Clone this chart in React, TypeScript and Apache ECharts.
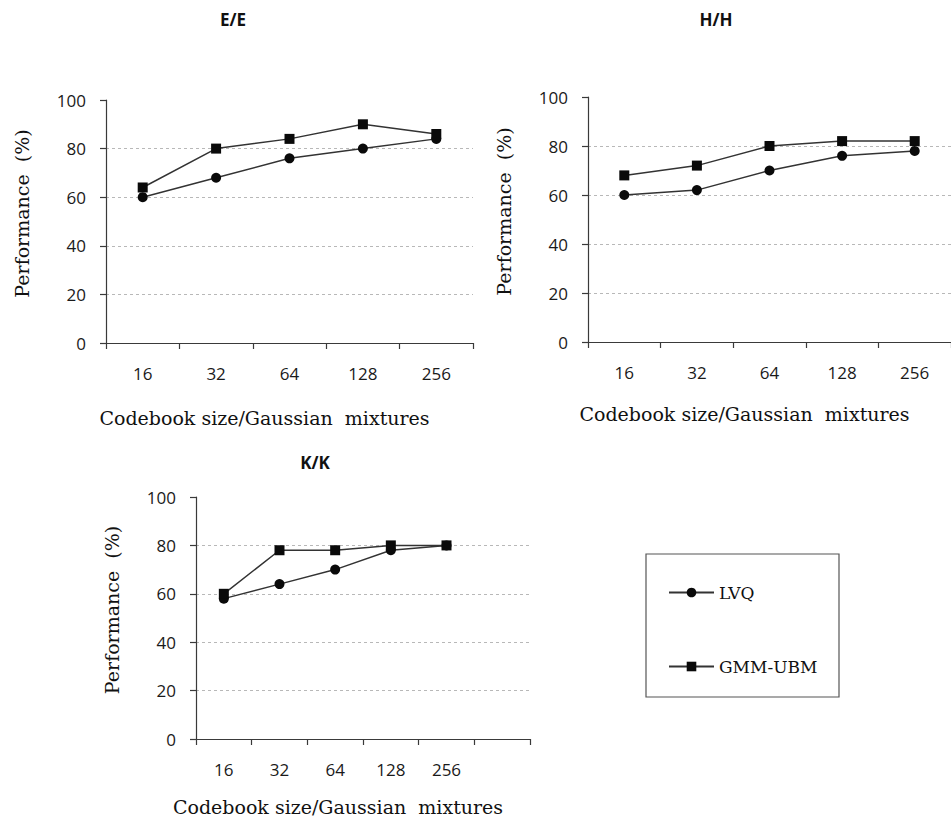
import React, { useEffect, useRef } from "react";
import * as echarts from "echarts";

const categories = ["16", "32", "64", "128", "256"];
const categoriesKK = ["16", "32", "64", "128", "256", ""];
const panelTitles = ["E/E", "H/H", "K/K"];
const seriesNames = ["LVQ", "GMM-UBM"];

const lvqEE = [60, 68, 76, 80, 84];
const gmmEE = [64, 80, 84, 90, 86];
const lvqHH = [60, 62, 70, 76, 78];
const gmmHH = [68, 72, 80, 82, 82];
const lvqKK = [58, 64, 70, 78, 80];
const gmmKK = [60, 78, 78, 80, 80];

const xName = "Codebook size/Gaussian  mixtures";
const yName = "Performance  (%)";

const SERIF = "'DejaVu Serif', serif";
const SANS = "'Open Sans', sans-serif";
const AXIS_COLOR = "#3a3a3a";

export default function App() {
  const ref = useRef<HTMLDivElement>(null);
  useEffect(() => {
    if (!ref.current) return;
    const chart = echarts.init(ref.current, null, { renderer: "svg" });

    const grids = [
      { left: 106, top: 100, width: 367, height: 243 },
      { left: 588, top: 97, width: 368, height: 245 },
      { left: 196, top: 497, width: 334, height: 242 },
    ];
    const xNameGaps = [65, 62, 58];
    const cats = [categories, categories, categoriesKK];

    const xAxis = grids.map((_, i) => ({
      type: "category",
      gridIndex: i,
      data: cats[i],
      boundaryGap: true,
      name: xName,
      nameLocation: "middle",
      nameGap: xNameGaps[i],
      nameTextStyle: {
        fontFamily: SERIF,
        fontSize: 19,
        color: "#111",
        padding: [0, 50, 0, 0],
      },
      axisLine: { show: true, lineStyle: { color: AXIS_COLOR, width: 1.2 } },
      axisTick: {
        show: true,
        alignWithLabel: false,
        interval: 0,
        length: 6,
        lineStyle: { color: AXIS_COLOR, width: 1.2 },
      },
      axisLabel: {
        interval: 0,
        margin: 22,
        fontFamily: SANS,
        fontSize: 17,
        color: "#1a1a1a",
      },
      splitLine: { show: false },
    }));

    const yAxis = grids.map((_, i) => ({
      type: "value",
      gridIndex: i,
      min: 0,
      max: 100,
      interval: 20,
      name: yName,
      nameLocation: "middle",
      nameGap: 75,
      nameRotate: 90,
      nameTextStyle: {
        fontFamily: SERIF,
        fontSize: 19,
        color: "#111",
        padding: [0, 0, 0, 16],
      },
      axisLine: { show: true, lineStyle: { color: AXIS_COLOR, width: 1.2 } },
      axisTick: {
        show: true,
        inside: false,
        length: 6,
        lineStyle: { color: AXIS_COLOR, width: 1.2 },
      },
      axisLabel: {
        margin: 20,
        fontFamily: SANS,
        fontSize: 17,
        color: "#1a1a1a",
      },
      splitLine: {
        show: true,
        showMinLine: false,
        showMaxLine: false,
        lineStyle: { color: "#b8b8b8", type: [3, 3], width: 1 },
      },
    }));

    const data = [
      [lvqEE, gmmEE],
      [lvqHH, gmmHH],
      [lvqKK, gmmKK],
    ];

    const series: any[] = [];
    data.forEach((pair, i) => {
      pair.forEach((vals, k) => {
        series.push({
          type: "line",
          name: seriesNames[k],
          xAxisIndex: i,
          yAxisIndex: i,
          data: vals,
          symbol: k === 0 ? "circle" : "rect",
          symbolSize: 10,
          showAllSymbol: true,
          lineStyle: { color: "#333", width: 1.5 },
          itemStyle: { color: "#0a0a0a", borderColor: "#0a0a0a", borderWidth: 0 },
          z: 3 + k,
        });
      });
    });

    const titleCenters = [
      [233, 11],
      [716, 11],
      [315, 454],
    ];

    chart.setOption({
      animation: false,
      backgroundColor: "#fff",
      title: panelTitles.map((t, i) => ({
        text: t,
        left: titleCenters[i][0],
        top: titleCenters[i][1],
        textAlign: "center",
        padding: 0,
        textStyle: {
          fontFamily: SANS,
          fontWeight: "bold",
          fontSize: 17,
          color: "#111",
        },
      })),
      grid: grids.map((g) => ({ ...g, containLabel: false })),
      xAxis,
      yAxis,
      legend: {
        data: seriesNames,
        orient: "vertical",
        left: 668,
        top: 584,
        itemWidth: 45,
        itemHeight: 12,
        itemGap: 57,
        padding: 0,
        selectedMode: false,
        textStyle: { fontFamily: SERIF, fontSize: 17, color: "#111" },
      },
      graphic: [
        {
          type: "rect",
          shape: { x: 646, y: 554, width: 193, height: 143 },
          style: { fill: "none", stroke: "#555", lineWidth: 1.2 },
          z: 0,
        },
      ],
      series,
    });

    return () => chart.dispose();
  }, []);

  return (
    <div
      ref={ref}
      style={{ position: "fixed", left: 0, top: 0, width: 951, height: 819 }}
    />
  );
}
